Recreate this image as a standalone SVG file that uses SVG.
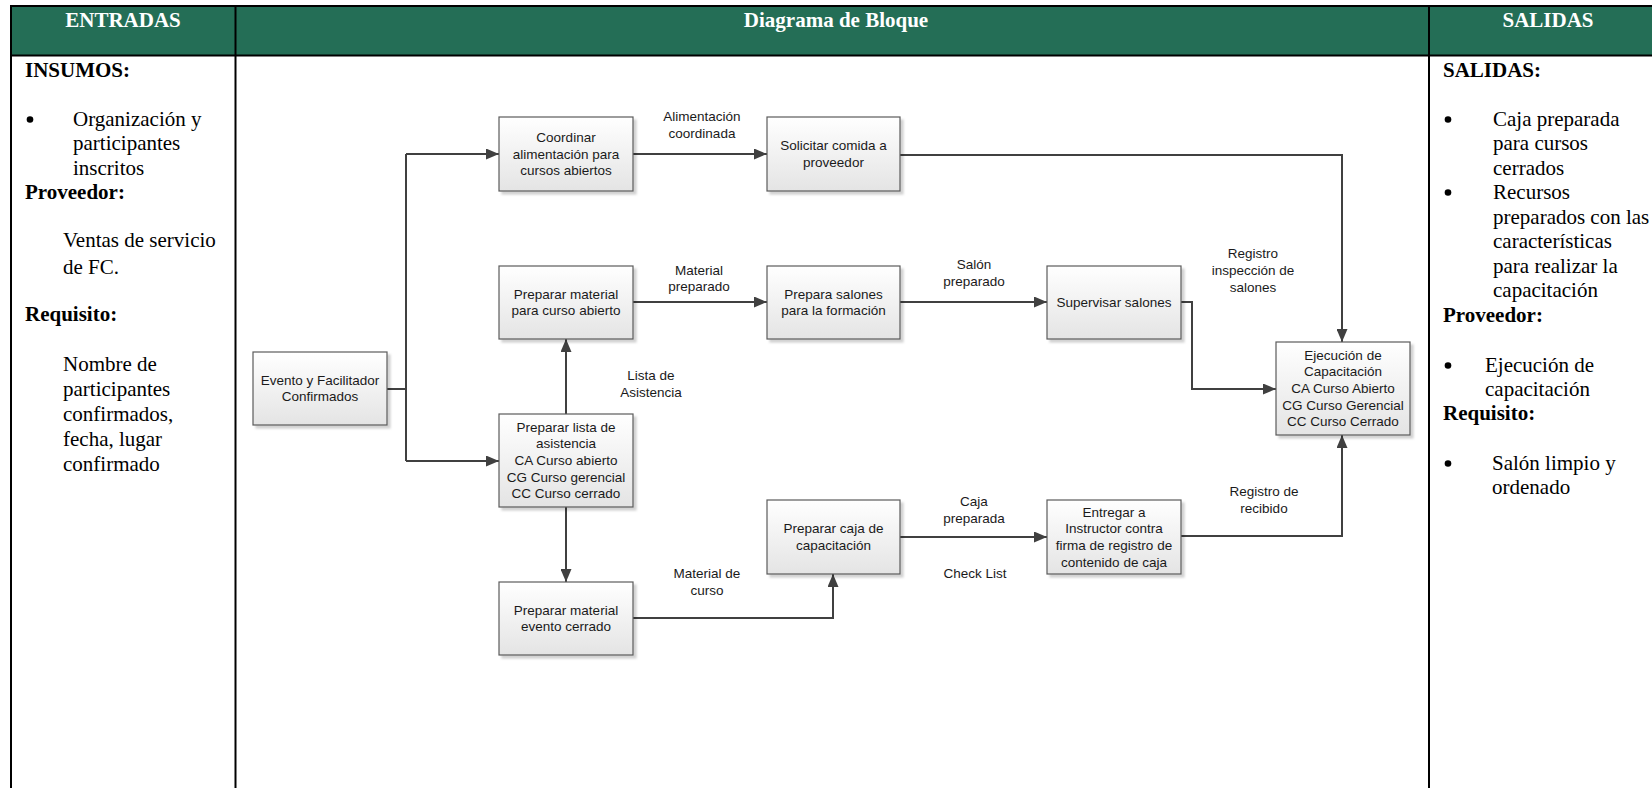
<svg xmlns="http://www.w3.org/2000/svg" width="1652" height="788" viewBox="0 0 1652 788">
  <style>
    .hdr { fill: #246e56; }
    .grid { stroke: #000; stroke-width: 2; fill: none; }
    .htxt { font-family: "Liberation Serif", "Times New Roman", serif; font-weight: bold; font-size: 21px; fill: #fff; text-anchor: middle; }
    .col { font-family: "Liberation Serif", "Times New Roman", serif; font-size: 21px; fill: #000; }
    .colb { font-family: "Liberation Serif", "Times New Roman", serif; font-size: 21px; font-weight: bold; fill: #000; }
    .dot { fill: #000; }
    .box { fill: url(#boxfill); stroke: #5a5a5a; stroke-width: 1.2; filter: url(#shadow); }
    .btxt { font-family: "Liberation Sans", Arial, sans-serif; font-size: 13.5px; fill: #1a1a1a; text-anchor: middle; }
    .lbl { font-family: "Liberation Sans", Arial, sans-serif; font-size: 13.5px; fill: #1a1a1a; text-anchor: middle; }
    .edge { stroke: #404040; stroke-width: 2; fill: none; }
    .arrow { marker-end: url(#arrowhead); }
  </style>
  <defs>
    <linearGradient id="boxfill" x1="0" y1="0" x2="0" y2="1">
      <stop offset="0" stop-color="#ffffff"/>
      <stop offset="1" stop-color="#e4e4e4"/>
    </linearGradient>
    <filter id="shadow" x="-10%" y="-10%" width="125%" height="130%">
      <feDropShadow dx="3" dy="3" stdDeviation="1.2" flood-color="#000" flood-opacity="0.18"/>
    </filter>
    <marker id="arrowhead" markerUnits="userSpaceOnUse" markerWidth="13" markerHeight="11" refX="13" refY="5.5" orient="auto">
      <path d="M0,0 L13,5.5 L0,11 z" fill="#404040"/>
    </marker>
  </defs>

  <!-- page background -->
  <rect x="0" y="0" width="1652" height="788" fill="#fff"/>

  <!-- table header band -->
  <rect class="hdr" x="11" y="6" width="1641" height="49.5"/>
  <text class="htxt" x="123" y="27">ENTRADAS</text>
  <text class="htxt" x="836" y="27">Diagrama de Bloque</text>
  <text class="htxt" x="1548" y="27">SALIDAS</text>

  <!-- table rules -->
  <g id="table-grid">
    <line class="grid" x1="10" y1="6" x2="1652" y2="6"/>
    <line class="grid" x1="10" y1="55.5" x2="1652" y2="55.5"/>
    <line class="grid" x1="11" y1="5" x2="11" y2="788"/>
    <line class="grid" x1="235.5" y1="6" x2="235.5" y2="788"/>
    <line class="grid" x1="1429" y1="6" x2="1429" y2="788"/>
  </g>

  <!-- inputs column -->
  <g id="entradas">
    <text class="colb" x="25" y="77">INSUMOS:</text>
    <circle class="dot" cx="30" cy="119.5" r="3.3"/>
    <text class="col" x="73" y="126">Organización y</text>
    <text class="col" x="73" y="150">participantes</text>
    <text class="col" x="73" y="175">inscritos</text>
    <text class="colb" x="25" y="199">Proveedor:</text>
    <text class="col" x="63" y="247">Ventas de servicio</text>
    <text class="col" x="63" y="274">de FC.</text>
    <text class="colb" x="25" y="321">Requisito:</text>
    <text class="col" x="63" y="371">Nombre de</text>
    <text class="col" x="63" y="396">participantes</text>
    <text class="col" x="63" y="421">confirmados,</text>
    <text class="col" x="63" y="446">fecha, lugar</text>
    <text class="col" x="63" y="471">confirmado</text>
  </g>

  <!-- outputs column -->
  <g id="salidas">
    <text class="colb" x="1443" y="77">SALIDAS:</text>
    <circle class="dot" cx="1448" cy="119.5" r="3.3"/>
    <text class="col" x="1493" y="126">Caja preparada</text>
    <text class="col" x="1493" y="150">para cursos</text>
    <text class="col" x="1493" y="175">cerrados</text>
    <circle class="dot" cx="1448" cy="192.5" r="3.3"/>
    <text class="col" x="1493" y="199">Recursos</text>
    <text class="col" x="1493" y="224">preparados con las</text>
    <text class="col" x="1493" y="248">características</text>
    <text class="col" x="1493" y="273">para realizar la</text>
    <text class="col" x="1493" y="297">capacitación</text>
    <text class="colb" x="1443" y="322">Proveedor:</text>
    <circle class="dot" cx="1448" cy="365.5" r="3.3"/>
    <text class="col" x="1485" y="372">Ejecución de</text>
    <text class="col" x="1485" y="396">capacitación</text>
    <text class="colb" x="1443" y="420">Requisito:</text>
    <circle class="dot" cx="1448" cy="463.5" r="3.3"/>
    <text class="col" x="1492" y="470">Salón limpio y</text>
    <text class="col" x="1492" y="494">ordenado</text>
  </g>

  <!-- connectors -->
  <g id="connectors">
    <polyline class="edge" points="387,389 406,389"/>
    <polyline class="edge" points="406,154 406,461"/>
    <polyline class="edge arrow" points="406,154 499,154"/>
    <polyline class="edge arrow" points="406,461 499,461"/>
    <polyline class="edge arrow" points="633,154 767,154"/>
    <polyline class="edge arrow" points="900,155 1342,155 1342,342"/>
    <polyline class="edge arrow" points="633,302 767,302"/>
    <polyline class="edge arrow" points="900,302 1047,302"/>
    <polyline class="edge arrow" points="1181,302 1192,302 1192,389 1276,389"/>
    <polyline class="edge arrow" points="566,414 566,339"/>
    <polyline class="edge arrow" points="566,507 566,582"/>
    <polyline class="edge arrow" points="633,618 833,618 833,574"/>
    <polyline class="edge arrow" points="900,537 1047,537"/>
    <polyline class="edge arrow" points="1181,536 1342,536 1342,435"/>
  </g>

  <!-- connector labels -->
  <g id="labels">
    <text class="lbl" x="702" y="121">Alimentación</text>
    <text class="lbl" x="702" y="138">coordinada</text>
    <text class="lbl" x="699" y="275">Material</text>
    <text class="lbl" x="699" y="291">preparado</text>
    <text class="lbl" x="974" y="269">Salón</text>
    <text class="lbl" x="974" y="286">preparado</text>
    <text class="lbl" x="1253" y="258">Registro</text>
    <text class="lbl" x="1253" y="275">inspección de</text>
    <text class="lbl" x="1253" y="292">salones</text>
    <text class="lbl" x="651" y="380">Lista de</text>
    <text class="lbl" x="651" y="397">Asistencia</text>
    <text class="lbl" x="707" y="578">Material de</text>
    <text class="lbl" x="707" y="594.5">curso</text>
    <text class="lbl" x="974" y="505.5">Caja</text>
    <text class="lbl" x="974" y="523">preparada</text>
    <text class="lbl" x="975" y="578">Check List</text>
    <text class="lbl" x="1264" y="496">Registro de</text>
    <text class="lbl" x="1264" y="513">recibido</text>
  </g>

  <!-- process blocks -->
  <g id="evento">
    <rect class="box" x="253" y="352" width="134" height="73"/>
    <text class="btxt" x="320" y="384.7">Evento y Facilitador</text>
    <text class="btxt" x="320" y="401.4">Confirmados</text>
  </g>
  <g id="coordinar">
    <rect class="box" x="499" y="117" width="134" height="74"/>
    <text class="btxt" x="566" y="141.8">Coordinar</text>
    <text class="btxt" x="566" y="158.5">alimentación para</text>
    <text class="btxt" x="566" y="175.2">cursos abiertos</text>
  </g>
  <g id="solicitar">
    <rect class="box" x="767" y="117" width="133" height="74"/>
    <text class="btxt" x="833.5" y="150.2">Solicitar comida a</text>
    <text class="btxt" x="833.5" y="166.9">proveedor</text>
  </g>
  <g id="material-abierto">
    <rect class="box" x="499" y="266" width="134" height="73"/>
    <text class="btxt" x="566" y="298.7">Preparar material</text>
    <text class="btxt" x="566" y="315.4">para curso abierto</text>
  </g>
  <g id="salones">
    <rect class="box" x="767" y="266" width="133" height="73"/>
    <text class="btxt" x="833.5" y="298.7">Prepara salones</text>
    <text class="btxt" x="833.5" y="315.4">para la formación</text>
  </g>
  <g id="supervisar">
    <rect class="box" x="1047" y="266" width="134" height="73"/>
    <text class="btxt" x="1114" y="307">Supervisar salones</text>
  </g>
  <g id="ejecucion">
    <rect class="box" x="1276" y="342" width="134" height="93"/>
    <text class="btxt" x="1343" y="359.6">Ejecución de</text>
    <text class="btxt" x="1343" y="376.3">Capacitación</text>
    <text class="btxt" x="1343" y="393">CA Curso Abierto</text>
    <text class="btxt" x="1343" y="409.7">CG Curso Gerencial</text>
    <text class="btxt" x="1343" y="426.4">CC Curso Cerrado</text>
  </g>
  <g id="lista">
    <rect class="box" x="499" y="414" width="134" height="93"/>
    <text class="btxt" x="566" y="431.6">Preparar lista de</text>
    <text class="btxt" x="566" y="448.3">asistencia</text>
    <text class="btxt" x="566" y="465">CA Curso abierto</text>
    <text class="btxt" x="566" y="481.7">CG Curso gerencial</text>
    <text class="btxt" x="566" y="498.4">CC Curso cerrado</text>
  </g>
  <g id="material-cerrado">
    <rect class="box" x="499" y="582" width="134" height="73"/>
    <text class="btxt" x="566" y="614.7">Preparar material</text>
    <text class="btxt" x="566" y="631.4">evento cerrado</text>
  </g>
  <g id="caja">
    <rect class="box" x="767" y="500" width="133" height="74"/>
    <text class="btxt" x="833.5" y="533.2">Preparar caja de</text>
    <text class="btxt" x="833.5" y="549.9">capacitación</text>
  </g>
  <g id="entregar">
    <rect class="box" x="1047" y="500" width="134" height="74"/>
    <text class="btxt" x="1114" y="516.5">Entregar a</text>
    <text class="btxt" x="1114" y="533.2">Instructor contra</text>
    <text class="btxt" x="1114" y="549.8">firma de registro de</text>
    <text class="btxt" x="1114" y="566.5">contenido de caja</text>
  </g>
</svg>
